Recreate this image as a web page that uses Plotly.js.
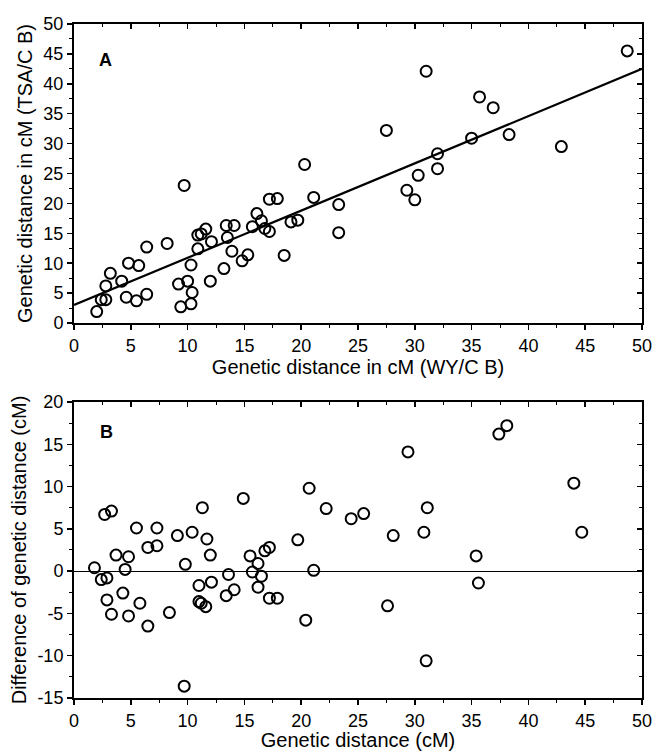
<!DOCTYPE html>
<html>
<head>
<meta charset="utf-8">
<script src="https://cdn.plot.ly/plotly-3.0.1.min.js"></script>
<style>html,body{margin:0;padding:0;background:#fff;}#chart{width:656px;height:751px;}</style>
</head>
<body>
<div id="chart"></div>
<script>
// Panel A: genetic distance WY/C B (x) vs TSA/C B (y), cM
const aX = [2.0, 2.4, 2.8, 2.8, 3.2, 4.2, 4.6, 4.8, 5.5, 5.7, 6.4, 6.4, 8.2, 9.7, 9.2, 9.4, 10.0, 10.3, 10.4, 10.3,
            10.9, 10.9, 11.2, 11.6, 12.1, 12.0, 13.2, 13.4, 13.5, 13.9, 14.1, 14.8, 15.3, 15.7, 16.1, 16.5, 16.8, 17.2, 17.2, 17.9,
            18.5, 19.1, 19.7, 20.3, 21.1, 23.3, 23.3, 27.5, 31.0, 29.3, 30.0, 30.3, 32.0, 32.0, 35.0, 35.7, 36.9, 38.3, 42.9, 48.7];
const aY = [1.9, 3.9, 3.9, 6.2, 8.3, 7.0, 4.3, 10.0, 3.7, 9.6, 4.8, 12.7, 13.3, 23.0, 6.5, 2.7, 7.0, 9.7, 5.1, 3.2,
            12.4, 14.7, 14.9, 15.7, 13.6, 7.0, 9.1, 16.3, 14.3, 12.0, 16.3, 10.4, 11.4, 16.1, 18.3, 17.1, 15.8, 15.3, 20.7, 20.8,
            11.3, 16.9, 17.2, 26.5, 21.0, 19.8, 15.1, 32.2, 42.1, 22.2, 20.6, 24.7, 28.3, 25.8, 30.9, 37.8, 36.0, 31.5, 29.5, 45.5];
// Regression line end points
const fitX = [0, 50];
const fitY = [3.0, 42.5];

// Panel B: genetic distance (x) vs difference of genetic distance (y), cM
const bX = [1.8, 2.4, 2.9, 2.7, 3.3, 2.9, 3.3, 3.7, 4.3, 4.5, 4.8, 4.8, 5.5, 5.8, 6.5, 6.5, 7.3, 7.3, 8.4, 9.1,
            9.8, 9.7, 10.4, 11.0, 11.0, 11.2, 11.6, 11.3, 11.7, 12.0, 12.1, 13.4, 13.6, 14.1, 14.9, 15.5, 15.7, 16.2, 16.2, 16.5,
            16.8, 17.2, 17.2, 17.9, 19.7, 20.4, 20.7, 21.1, 22.2, 24.4, 25.5, 27.6, 28.1, 29.4, 30.8, 31.1, 31.0, 35.4, 35.6, 37.4,
            38.1, 44.0, 44.7];
const bY = [0.4, -1.0, -0.8, 6.7, 7.1, -3.4, -5.1, 1.9, -2.6, 0.2, 1.7, -5.3, 5.1, -3.8, -6.5, 2.8, 5.1, 3.0, -4.9, 4.2,
            0.8, -13.6, 4.6, -1.7, -3.6, -3.8, -4.2, 7.5, 3.8, 1.9, -1.3, -2.9, -0.4, -2.2, 8.6, 1.8, -0.1, 0.9, -1.9, -0.6,
            2.4, 2.8, -3.2, -3.2, 3.7, -5.8, 9.8, 0.1, 7.4, 6.2, 6.8, -4.1, 4.2, 14.1, 4.6, 7.5, -10.6, 1.8, -1.4, 16.2,
            17.2, 10.4, 4.6];

const xTicks = [0, 5, 10, 15, 20, 25, 30, 35, 40, 45, 50];
const aYTicks = [0, 5, 10, 15, 20, 25, 30, 35, 40, 45, 50];
const bYTicks = [-15, -10, -5, 0, 5, 10, 15, 20];

const FONT = 'Liberation Sans, Arial, Helvetica, sans-serif';
const marker = {symbol: 'circle-open', size: 11, color: '#000', line: {width: 2, color: '#000'}};

const traces = [
  {x: aX, y: aY, type: 'scatter', mode: 'markers', marker: marker, xaxis: 'x', yaxis: 'y', hoverinfo: 'x+y'},
  {x: fitX, y: fitY, type: 'scatter', mode: 'lines', line: {color: '#000', width: 2.2}, xaxis: 'x', yaxis: 'y'},
  {x: bX, y: bY, type: 'scatter', mode: 'markers', marker: marker, xaxis: 'x2', yaxis: 'y2'},
  // empty traces binding the mirrored (top/right) axes
  {x: [], y: [], type: 'scatter', mode: 'markers', xaxis: 'x3', yaxis: 'y3', hoverinfo: 'skip'},
  {x: [], y: [], type: 'scatter', mode: 'markers', xaxis: 'x4', yaxis: 'y4', hoverinfo: 'skip'}
];

const tickFont = {family: FONT, size: 18, color: '#000'};
const titleFont = {family: FONT, size: 20, color: '#000'};

function mainX(title, anchor) {
  return {
    range: [0, 50], tickvals: xTicks, ticktext: xTicks.map(String),
    ticks: 'outside', ticklen: 5, tickwidth: 1.5, tickcolor: '#000',
    minor: {dtick: 2.5, ticks: 'outside', ticklen: 3, tickwidth: 1, tickcolor: '#000', showgrid: false},
    showline: true, linecolor: '#000', linewidth: 2, showgrid: false, zeroline: false,
    tickfont: tickFont, anchor: anchor,
    title: {text: title, font: titleFont, standoff: 1}
  };
}
function mainY(title, range, tv, anchor, domain) {
  return {
    range: range, tickvals: tv, ticktext: tv.map(String), domain: domain,
    ticks: 'outside', ticklen: 5, tickwidth: 1.5, tickcolor: '#000',
    minor: {dtick: 2.5, ticks: 'outside', ticklen: 3, tickwidth: 1, tickcolor: '#000', showgrid: false},
    showline: true, linecolor: '#000', linewidth: 2, showgrid: false,
    tickfont: tickFont, anchor: anchor,
    title: {text: title, font: titleFont, standoff: 5}
  };
}
function mirX(over, anchor) {
  return {
    overlaying: over, side: 'top', anchor: anchor, range: [0, 50], tickvals: xTicks,
    showticklabels: false, ticks: 'inside', ticklen: 5, tickwidth: 1.5, tickcolor: '#000',
    minor: {dtick: 2.5, ticks: 'inside', ticklen: 3, tickwidth: 1, tickcolor: '#000', showgrid: false},
    showline: true, linecolor: '#000', linewidth: 2, showgrid: false, zeroline: false
  };
}
function mirY(over, anchor, range, tv) {
  return {
    overlaying: over, side: 'right', anchor: anchor, range: range, tickvals: tv,
    showticklabels: false, ticks: 'inside', ticklen: 5, tickwidth: 1.5, tickcolor: '#000',
    minor: {dtick: 2.5, ticks: 'inside', ticklen: 3, tickwidth: 1, tickcolor: '#000', showgrid: false},
    showline: true, linecolor: '#000', linewidth: 2, showgrid: false, zeroline: false
  };
}

const domA = [0.5564, 1];
const domB = [0, 0.4392];

const yA = mainY('Genetic distance in cM (TSA/C B)', [0, 50], aYTicks, 'x', domA);
yA.zeroline = false;
const yB = mainY('Difference of genetic distance (cM)', [-15, 20], bYTicks, 'x2', domB);
yB.zeroline = true; yB.zerolinecolor = '#000'; yB.zerolinewidth = 1.2;

const layout = {
  width: 656, height: 751,
  margin: {l: 74, r: 14, t: 24, b: 53},
  paper_bgcolor: '#fff', plot_bgcolor: '#fff',
  showlegend: false,
  font: {family: FONT, color: '#000'},
  xaxis: mainX('Genetic distance in cM (WY/C B)', 'y'),
  yaxis: yA,
  xaxis2: mainX('Genetic distance (cM)', 'y2'),
  yaxis2: yB,
  xaxis3: mirX('x', 'y3'),
  yaxis3: mirY('y', 'x3', [0, 50], aYTicks),
  xaxis4: mirX('x2', 'y4'),
  yaxis4: mirY('y2', 'x4', [-15, 20], bYTicks),
  annotations: [
    {text: '<b>A</b>', x: 2.8, y: 44, xref: 'x', yref: 'y', showarrow: false, font: {family: FONT, size: 18, color: '#000'}},
    {text: '<b>B</b>', x: 2.9, y: 16.5, xref: 'x2', yref: 'y2', showarrow: false, font: {family: FONT, size: 18, color: '#000'}}
  ]
};

Plotly.newPlot('chart', traces, layout, {displayModeBar: false, staticPlot: true});
</script>
</body>
</html>
